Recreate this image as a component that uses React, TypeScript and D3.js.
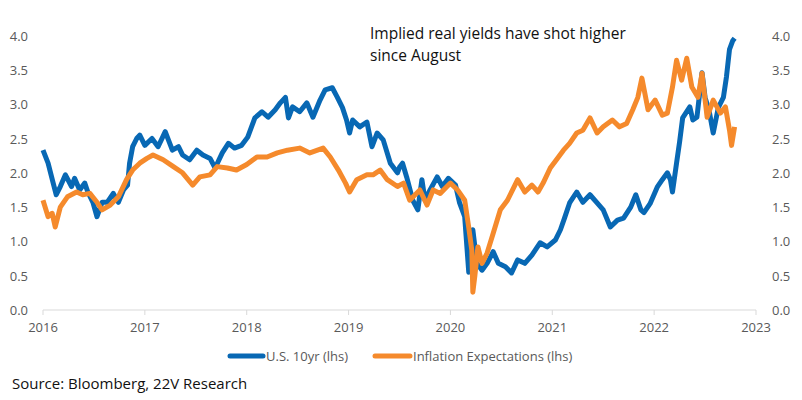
import React from "react";
import * as d3 from "d3";

// Dates as decimal years
const usDates = [2016.0,2016.05,2016.1,2016.13,2016.17,2016.22,2016.28,2016.31,2016.36,2016.41,2016.44,2016.49,2016.53,2016.58,2016.63,2016.69,2016.74,2016.79,2016.83,2016.85,2016.88,2016.92,2016.95,2017.0,2017.07,2017.13,2017.2,2017.27,2017.33,2017.37,2017.44,2017.51,2017.57,2017.64,2017.69,2017.76,2017.82,2017.88,2017.95,2018.01,2018.08,2018.15,2018.21,2018.28,2018.33,2018.38,2018.41,2018.45,2018.52,2018.59,2018.65,2018.72,2018.77,2018.84,2018.89,2018.94,2018.98,2019.01,2019.04,2019.11,2019.18,2019.23,2019.28,2019.34,2019.41,2019.48,2019.5,2019.53,2019.57,2019.63,2019.68,2019.72,2019.75,2019.8,2019.87,2019.92,2019.98,2020.05,2020.09,2020.14,2020.18,2020.22,2020.26,2020.31,2020.36,2020.42,2020.47,2020.54,2020.6,2020.66,2020.73,2020.8,2020.88,2020.95,2021.03,2021.08,2021.12,2021.17,2021.24,2021.3,2021.37,2021.44,2021.5,2021.57,2021.64,2021.7,2021.77,2021.82,2021.87,2021.9,2021.96,2022.03,2022.08,2022.13,2022.16,2022.18,2022.22,2022.25,2022.28,2022.35,2022.38,2022.42,2022.47,2022.5,2022.54,2022.58,2022.63,2022.68,2022.71,2022.74,2022.77,2022.79];
const usValues = [2.33,2.14,1.85,1.68,1.8,1.97,1.8,1.92,1.75,1.85,1.72,1.57,1.36,1.57,1.57,1.7,1.57,1.75,1.82,2.14,2.38,2.5,2.55,2.4,2.5,2.38,2.6,2.33,2.38,2.26,2.19,2.33,2.26,2.21,2.07,2.29,2.43,2.36,2.4,2.52,2.8,2.89,2.81,2.92,3.02,3.1,2.8,2.96,2.89,3.02,2.81,3.06,3.21,3.24,3.1,2.95,2.77,2.58,2.77,2.67,2.74,2.38,2.58,2.48,2.14,2.0,2.08,2.14,1.94,1.6,1.46,1.9,1.6,1.75,1.94,1.8,1.92,1.82,1.56,1.36,0.55,1.17,0.68,0.58,0.68,0.85,0.68,0.63,0.54,0.73,0.68,0.8,0.98,0.92,1.02,1.17,1.34,1.56,1.72,1.57,1.68,1.56,1.46,1.21,1.31,1.34,1.5,1.68,1.46,1.42,1.55,1.79,1.9,2.0,1.9,1.72,2.14,2.45,2.8,2.96,2.77,2.81,3.46,3.1,2.9,2.58,2.95,3.1,3.4,3.8,3.92,3.96];

const infDates = [2016.0,2016.05,2016.09,2016.12,2016.17,2016.24,2016.33,2016.39,2016.46,2016.53,2016.58,2016.66,2016.74,2016.82,2016.88,2016.95,2017.02,2017.08,2017.18,2017.28,2017.37,2017.47,2017.54,2017.64,2017.71,2017.81,2017.9,2018.0,2018.1,2018.2,2018.3,2018.4,2018.52,2018.62,2018.75,2018.82,2018.9,2018.97,2019.01,2019.08,2019.18,2019.24,2019.31,2019.38,2019.48,2019.54,2019.6,2019.7,2019.77,2019.83,2019.9,2020.0,2020.07,2020.14,2020.18,2020.21,2020.22,2020.24,2020.27,2020.31,2020.36,2020.42,2020.49,2020.56,2020.62,2020.66,2020.73,2020.8,2020.86,2020.91,2020.98,2021.05,2021.11,2021.17,2021.24,2021.3,2021.37,2021.44,2021.5,2021.59,2021.66,2021.73,2021.79,2021.84,2021.88,2021.94,2022.01,2022.08,2022.13,2022.18,2022.22,2022.27,2022.32,2022.37,2022.43,2022.47,2022.52,2022.58,2022.65,2022.7,2022.74,2022.76,2022.79];
const infValues = [1.6,1.36,1.41,1.21,1.5,1.65,1.72,1.68,1.7,1.57,1.46,1.53,1.65,1.9,2.04,2.14,2.21,2.26,2.19,2.09,2.0,1.82,1.94,1.97,2.09,2.07,2.04,2.12,2.23,2.23,2.29,2.33,2.36,2.29,2.36,2.23,2.04,1.85,1.72,1.9,1.97,1.97,2.04,1.9,1.8,1.85,1.6,1.75,1.53,1.75,1.7,1.85,1.75,1.6,1.2,0.87,0.26,0.5,0.92,0.68,0.83,1.12,1.46,1.6,1.78,1.9,1.72,1.82,1.72,1.85,2.07,2.21,2.33,2.43,2.58,2.62,2.8,2.58,2.67,2.77,2.67,2.72,2.92,3.1,3.38,2.92,3.06,2.84,2.87,3.25,3.64,3.35,3.67,3.25,3.1,3.45,2.81,3.06,2.87,2.96,2.62,2.4,2.67];

const yTicks = [0, 0.5, 1, 1.5, 2, 2.5, 3, 3.5, 4];
const xTicks = [2016, 2017, 2018, 2019, 2020, 2021, 2022, 2023];
const seriesNames = ["U.S. 10yr (lhs)", "Inflation Expectations (lhs)"];
const titleLines = ["Implied real yields have shot higher", "since August"];
const sourceText = "Source: Bloomberg, 22V Research";

const BLUE = "#0868B4";
const ORANGE = "#F58A2C";

export default function App() {
  const x = d3.scaleLinear().domain([2016, 2023]).range([43, 756]);
  const y = d3.scaleLinear().domain([0, 4]).range([310, 35.6]);
  const line = d3
    .line<[number, number]>()
    .x((d) => x(d[0]))
    .y((d) => y(d[1]));
  const usPts = usDates.map((d, i) => [d, usValues[i]] as [number, number]);
  const infPts = infDates.map((d, i) => [d, infValues[i]] as [number, number]);
  const tickFont = "'Open Sans', sans-serif";
  return (
    <svg
      width={802}
      height={400}
      style={{ position: "absolute", left: 0, top: 0, background: "#fff" }}
    >
      <rect width={802} height={400} fill="#fff" />
      <line x1={x(2016)} x2={x(2023)} y1={y(0)} y2={y(0)} stroke="#D9D9D9" strokeWidth={1} />
      {xTicks.map((t) => (
        <g key={t}>
          <line x1={x(t)} x2={x(t)} y1={y(0)} y2={y(0) + 5} stroke="#D9D9D9" />
          <text
            x={x(t)}
            y={y(0) + 22}
            textAnchor="middle"
            fontFamily={tickFont}
            fontSize={13}
            fill="#595959"
          >
            {t}
          </text>
        </g>
      ))}
      {yTicks.map((t) => (
        <g key={t}>
          <text x={28} y={y(t) + 5} textAnchor="end" fontFamily={tickFont} fontSize={13} fill="#595959">
            {d3.format(".1f")(t)}
          </text>
          <text x={772} y={y(t) + 5} textAnchor="start" fontFamily={tickFont} fontSize={13} fill="#595959">
            {d3.format(".1f")(t)}
          </text>
        </g>
      ))}
      <path d={line(usPts) || ""} fill="none" stroke={BLUE} strokeWidth={5} strokeLinejoin="round" />
      <path d={line(infPts) || ""} fill="none" stroke={ORANGE} strokeWidth={5} strokeLinejoin="round" />
      {titleLines.map((t, i) => (
        <text key={i} x={370} y={39 + i * 22} fontFamily="'Open Sans', sans-serif" fontSize={15.5} fill="#111">
          {t}
        </text>
      ))}
      <line x1={230} x2={263} y1={356} y2={356} stroke={BLUE} strokeWidth={5} strokeLinecap="round" />
      <text x={266} y={361} fontFamily={tickFont} fontSize={13} fill="#595959">
        {seriesNames[0]}
      </text>
      <line x1={375} x2={410} y1={356} y2={356} stroke={ORANGE} strokeWidth={5} strokeLinecap="round" />
      <text x={413} y={361} fontFamily={tickFont} fontSize={13} fill="#595959">
        {seriesNames[1]}
      </text>
      <text x={12} y={389} fontFamily={tickFont} fontSize={15} fill="#111">
        {sourceText}
      </text>
    </svg>
  );
}
